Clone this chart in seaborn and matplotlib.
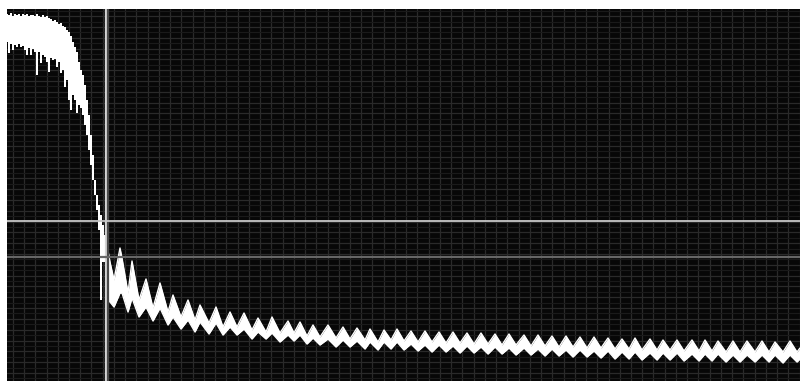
import numpy as np
import pandas as pd
import matplotlib
matplotlib.use("Agg")
import matplotlib.pyplot as plt
import seaborn as sns

# Onset segment: sample index, upper edge and lower edge of the trace (attenuation units, 0 = top)
onset_x = [0, 2, 4, 6, 8, 10, 12, 14, 16, 18, 20, 22, 24, 26, 28, 30, 32, 34, 36, 38,
           40, 42, 44, 46, 48, 50, 52, 54, 56, 58, 60, 62, 64, 66, 68, 70, 72, 74, 76, 78,
           80, 82, 84, 86, 88, 90, 92, 94, 96, 98, 100]
onset_hi = [5, 6, 4, 7, 5, 6, 5, 7, 5, 6, 5, 7, 6, 6, 7, 5, 7, 8, 6, 8,
            7, 9, 10, 12, 11, 13, 15, 14, 17, 18, 21, 23, 27, 33, 38, 43, 53, 61, 66, 76,
            91, 106, 126, 146, 171, 186, 196, 206, 216, 226, 236]
onset_lo = [33, 44, 35, 41, 36, 38, 35, 38, 37, 41, 46, 39, 46, 40, 43, 66, 43, 54, 46, 48,
            53, 63, 49, 51, 50, 58, 53, 64, 61, 78, 71, 91, 101, 86, 91, 104, 96, 99, 106, 116,
            126, 141, 156, 171, 186, 201, 221, 291, 253, 253, 291]

# Ringing decay: alternating crest / trough readings
decay_x = [100, 103, 107, 113, 115, 121, 125, 132, 139, 146, 153, 161, 166, 174, 181, 188, 193,
           202, 209, 216, 223, 230, 237, 245, 251, 259, 265, 273, 281, 287, 293, 300, 306,
           313, 321, 329, 336, 343, 350, 358, 363, 371, 377, 384, 390, 397, 404, 411, 418,
           425, 432, 439, 446, 453, 460, 467, 474, 481, 488, 495, 502, 509, 517, 524, 531,
           538, 545, 552, 559, 566, 573, 580, 587, 594, 601, 608, 615, 622, 628, 635, 643,
           650, 656, 663, 670, 677, 685, 692, 698, 705, 711, 719, 726, 733, 740, 748, 755,
           762, 768, 776, 783, 790, 793]
decay_hi = [236, 253, 271, 239, 249, 284, 252, 291, 270, 299, 274, 303, 286, 308, 291, 311, 296,
            314, 298, 318, 303, 318, 304, 321, 309, 323, 308, 324, 312, 324, 313, 327, 316,
            328, 316, 329, 318, 330, 319, 331, 320, 333, 321, 331, 320, 332, 322, 333, 322,
            333, 323, 334, 323, 334, 324, 335, 324, 335, 325, 336, 325, 336, 326, 337, 326,
            337, 327, 338, 327, 338, 328, 339, 328, 339, 329, 340, 330, 340, 329, 341, 330,
            341, 331, 341, 331, 342, 331, 342, 331, 342, 332, 343, 332, 343, 332, 343, 332,
            343, 333, 343, 332, 343, 339]
decay_lo = [291, 293, 298, 284, 284, 303, 289, 308, 298, 312, 299, 316, 308, 320, 311, 323, 313,
            325, 314, 326, 318, 326, 320, 330, 323, 330, 324, 333, 326, 332, 326, 335, 329,
            336, 330, 338, 331, 338, 332, 340, 333, 341, 333, 340, 333, 341, 335, 342, 336,
            343, 336, 343, 337, 344, 337, 344, 338, 345, 338, 345, 339, 346, 339, 346, 340,
            347, 340, 347, 341, 348, 341, 348, 342, 349, 342, 350, 343, 350, 343, 351, 344,
            351, 344, 351, 344, 352, 345, 352, 345, 352, 345, 353, 346, 353, 346, 353, 346,
            353, 346, 354, 346, 353, 350]

# Cursor readouts
cursor_t = [98.5, 101.0]
cursor_level = [211.5, 247.5]

sns.set_theme(style="dark", rc={
    "axes.facecolor": "#070707",
    "figure.facecolor": "white",
    "axes.edgecolor": "#070707",
})

fig = plt.figure(figsize=(8.0, 3.81), dpi=100)
ax = fig.add_axes([7 / 800, 0, 793 / 800, 372 / 381])

# Graticule
ax.set_xticks(np.arange(5.8, 794, 11.24))
ax.set_yticks(np.arange(7.2, 373, 10.81))
ax.set_yticks(np.arange(1.8, 373, 10.81), minor=True)
ax.grid(True, which="major", color="#2a2a2a", linewidth=0.9)
ax.grid(True, which="minor", axis="y", color="#1a1a1a", linewidth=0.8)
ax.tick_params(which="both", length=0, labelbottom=False, labelleft=False)

onset = pd.DataFrame({"t": onset_x, "hi": onset_hi, "lo": onset_lo})
decay = pd.DataFrame({"t": decay_x, "hi": decay_hi, "lo": decay_lo})

ax.fill_between(onset["t"], onset["hi"], onset["lo"], step="mid", color="white", lw=0, zorder=3)
ax.fill_between(decay["t"], decay["hi"], decay["lo"], color="white", lw=0, zorder=3)
for col in ("hi", "lo"):
    sns.lineplot(data=decay, x="t", y=col, ax=ax, color="white", linewidth=1.0, zorder=3)

# Cursors
ax.axvline(cursor_t[0], color="#d4d4d4", linewidth=1.6, zorder=4)
ax.axvline(cursor_t[1], color="#4a4a4a", linewidth=1.6, zorder=4)
ax.axhline(cursor_level[0], color="#c8c8c8", linewidth=1.3, zorder=4)
ax.axhline(cursor_level[1], color="#666666", linewidth=1.6, zorder=4)

ax.set_xlim(0, 793)
ax.set_ylim(372, 0)
ax.set_xlabel("")
ax.set_ylabel("")
for s in ax.spines.values():
    s.set_visible(False)

fig.savefig("out.png", dpi=100)
